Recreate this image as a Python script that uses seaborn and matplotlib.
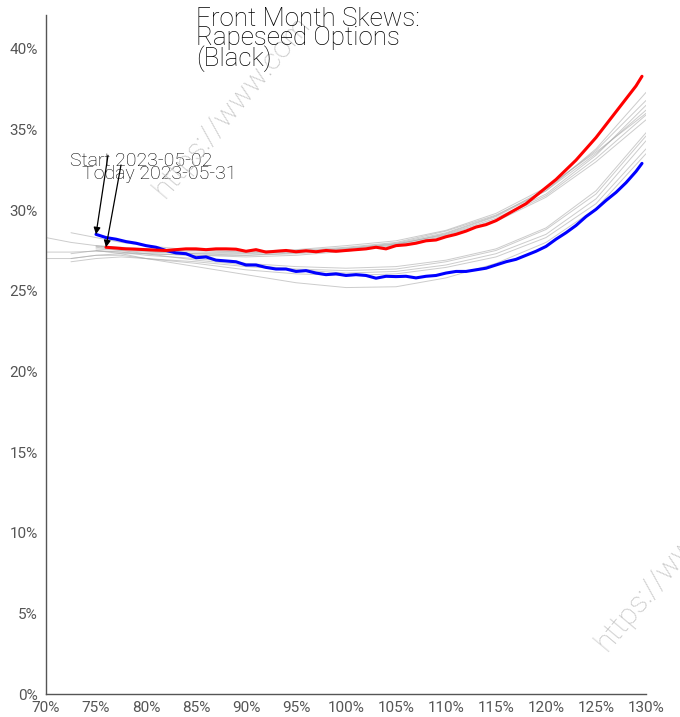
import matplotlib
matplotlib.use("Agg")
import matplotlib.pyplot as plt
import matplotlib.ticker as mtick
import numpy as np
import pandas as pd
import seaborn as sns

# moneyness (%) and implied vol (%)
start_x = [75, 76, 77, 78, 79, 80, 81, 82, 83, 84, 85, 86, 87, 88, 89, 90, 91, 92, 93, 94,
           95, 96, 97, 98, 99, 100, 101, 102, 103, 104, 105, 106, 107, 108, 109, 110, 111,
           112, 113, 114, 115, 116, 117, 118, 119, 120, 121, 122, 123, 124, 125, 126, 127,
           128, 129, 129.6]
start_vol = [28.5, 28.3, 28.2, 28.05, 27.95, 27.8, 27.7, 27.5, 27.35, 27.3, 27.05, 27.1, 26.9,
             26.85, 26.8, 26.6, 26.6, 26.45, 26.35, 26.35, 26.2, 26.25, 26.1, 26.0, 26.05,
             25.95, 26.0, 25.95, 25.78, 25.9, 25.88, 25.9, 25.8, 25.9, 25.95, 26.1, 26.2,
             26.2, 26.3, 26.4, 26.6, 26.8, 26.95, 27.2, 27.45, 27.75, 28.2, 28.6, 29.05,
             29.6, 30.05, 30.6, 31.1, 31.7, 32.4, 32.9]

today_x = [76, 77, 78, 79, 80, 81, 82, 83, 84, 85, 86, 87, 88, 89, 90, 91, 92, 93, 94, 95,
           96, 97, 98, 99, 100, 101, 102, 103, 104, 105, 106, 107, 108, 109, 110, 111, 112,
           113, 114, 115, 116, 117, 118, 119, 120, 121, 122, 123, 124, 125, 126, 127, 128,
           129, 129.6]
today_vol = [27.7, 27.65, 27.6, 27.58, 27.55, 27.52, 27.5, 27.55, 27.6, 27.6, 27.55, 27.6,
             27.6, 27.58, 27.45, 27.55, 27.4, 27.45, 27.5, 27.42, 27.48, 27.42, 27.5, 27.45,
             27.5, 27.55, 27.6, 27.7, 27.6, 27.8, 27.85, 27.95, 28.1, 28.15, 28.35, 28.5,
             28.7, 28.95, 29.1, 29.35, 29.7, 30.05, 30.4, 30.9, 31.4, 31.9, 32.5, 33.1, 33.8,
             34.5, 35.3, 36.1, 36.9, 37.7, 38.3]

hist_x = [70, 72.5, 75, 77.5, 80, 85, 90, 95, 100, 105, 110, 115, 120, 125, 130]
nan = np.nan
hist_vols = [
    [28.3, 28.0, 27.8, 27.6, 27.45, 27.3, 27.2, 27.3, 27.5, 27.85, 28.55, 29.6, 31.2, 33.8, 37.3],
    [nan, nan, 27.75, 27.6, 27.5, 27.4, 27.35, 27.45, 27.65, 27.95, 28.6, 29.65, 31.3, 33.7, 36.8],
    [27.4, 27.4, 27.45, 27.4, 27.3, 27.2, 27.2, 27.35, 27.6, 27.9, 28.5, 29.5, 31.0, 33.4, 36.5],
    [nan, 28.6, 28.3, 28.0, 27.8, 27.5, 27.4, 27.5, 27.7, 28.0, 28.7, 29.7, 31.2, 33.5, 36.2],
    [nan, nan, 27.6, 27.5, 27.4, 27.3, 27.3, 27.4, 27.6, 27.9, 28.45, 29.4, 30.9, 33.2, 35.9],
    [nan, 27.0, 27.2, 27.3, 27.3, 27.2, 27.1, 27.2, 27.45, 27.8, 28.4, 29.3, 30.8, 33.0, 35.6],
    [nan, nan, 27.8, 27.7, 27.6, 27.5, 27.45, 27.55, 27.8, 28.1, 28.75, 29.8, 31.4, 33.6, 36.0],
    [nan, 27.3, 27.5, 27.4, 27.2, 27.0, 26.7, 26.5, 26.4, 26.5, 26.9, 27.6, 28.9, 31.2, 34.8],
    [nan, nan, 27.7, 27.5, 27.3, 26.9, 26.6, 26.35, 26.25, 26.35, 26.8, 27.5, 28.8, 31.0, 34.6],
    [nan, 26.8, 27.0, 27.1, 27.0, 26.8, 26.5, 26.3, 26.1, 26.2, 26.6, 27.3, 28.5, 30.7, 34.3],
    [27.0, 27.0, 27.2, 27.2, 27.0, 26.7, 26.3, 26.05, 25.95, 26.05, 26.45, 27.1, 28.3, 30.4, 33.8],
    [nan, nan, 27.5, 27.3, 27.0, 26.5, 26.0, 25.5, 25.2, 25.25, 25.8, 26.7, 28.0, 30.1, 33.5],
]

title = "Front Month Skews:\nRapeseed Options\n(Black)"
start_label = "Start 2023-05-02"
today_label = "Today 2023-05-31"
watermark = "https://www.com"

sns.set_style("white")
plt.rcParams["font.family"] = ["Roboto", "DejaVu Sans"]

hist = pd.DataFrame(
    [(i, x, v) for i, row in enumerate(hist_vols) for x, v in zip(hist_x, row)],
    columns=["day", "moneyness", "vol"],
).dropna()
start = pd.DataFrame({"moneyness": start_x, "vol": start_vol})
today = pd.DataFrame({"moneyness": today_x, "vol": today_vol})

fig = plt.figure(figsize=(6.8, 7.17), dpi=100)
ax = fig.add_axes([46 / 680, 23 / 717, 600 / 680, 679 / 717])

sns.lineplot(data=hist, x="moneyness", y="vol", units="day", estimator=None,
             color="#aaaaaa", linewidth=0.7, alpha=0.6, ax=ax, legend=False)
sns.lineplot(data=start, x="moneyness", y="vol", color="#0000ff", linewidth=2.2,
             ax=ax, legend=False)
sns.lineplot(data=today, x="moneyness", y="vol", color="#ff0000", linewidth=2.2,
             ax=ax, legend=False)

ax.set_xlim(70, 130)
ax.set_ylim(0, 42.1)
ax.set_xticks(range(70, 131, 5))
ax.set_yticks(range(0, 41, 5))
ax.xaxis.set_major_formatter(mtick.FormatStrFormatter("%d%%"))
ax.yaxis.set_major_formatter(mtick.FormatStrFormatter("%d%%"))
ax.set_xlabel("")
ax.set_ylabel("")
for side in ["top", "right"]:
    ax.spines[side].set_visible(False)
for side in ["left", "bottom"]:
    ax.spines[side].set_color("#555555")
    ax.spines[side].set_linewidth(1.0)
ax.tick_params(axis="both", colors="#444444", labelcolor="#555555", labelsize=11,
               length=5, width=1, direction="out", pad=1)
ax.tick_params(axis="x", pad=0)

# annotations
ax.annotate("", xy=(start_x[0], start_vol[0]), xytext=(76.2, 33.4),
            arrowprops=dict(arrowstyle="-|>", color="black", lw=0.9,
                            mutation_scale=10, shrinkA=0, shrinkB=0))
ax.annotate("", xy=(today_x[0], today_vol[0]), xytext=(77.5, 32.8),
            arrowprops=dict(arrowstyle="-|>", color="black", lw=0.9,
                            mutation_scale=10, shrinkA=0, shrinkB=0))
ax.text(72.4, 33.05, start_label, fontsize=14, color="#000000", va="center", ha="left",
        fontweight="light")
ax.text(73.6, 32.25, today_label, fontsize=14, color="#000000", va="center", ha="left",
        fontweight="light")

fig.text(196 / 680, 1 - 7 / 717, title, fontsize=18.7, color="#000000", va="top",
         ha="left", linespacing=0.76, fontweight="light")

# watermarks
fig.text(165 / 680, 1 - 199 / 717, watermark, fontsize=21.5, color="#c4c4c4",
         rotation=50, ha="left", va="baseline", rotation_mode="anchor", zorder=0,
         fontweight="light")
fig.text(607 / 680, 1 - 652 / 717, watermark, fontsize=21.5, color="#c4c4c4",
         rotation=50, ha="left", va="baseline", rotation_mode="anchor", zorder=0,
         fontweight="light")

fig.savefig("out.png", dpi=100)
